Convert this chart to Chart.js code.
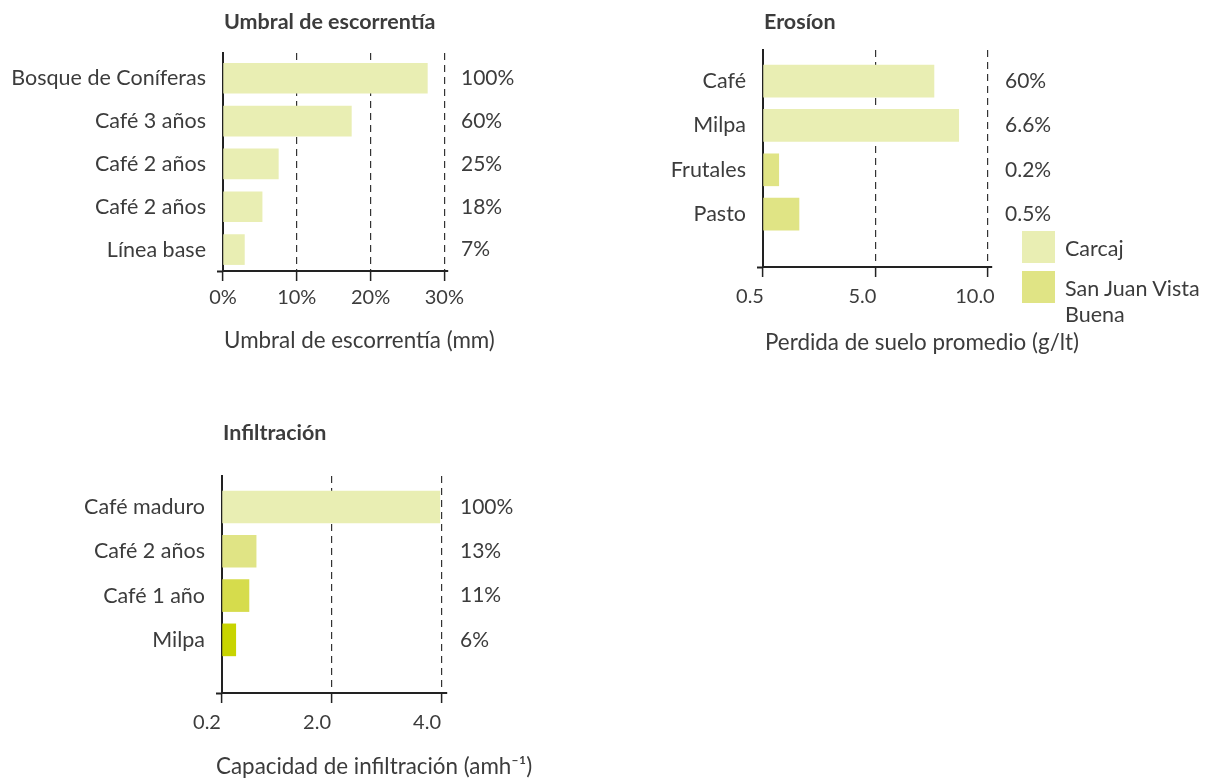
<!DOCTYPE html>
<html lang="es">
<head>
<meta charset="utf-8">
<title>Umbral de escorrentía, erosión e infiltración</title>
<script src="https://cdn.jsdelivr.net/npm/chart.js@4.4.1/dist/chart.umd.min.js"></script>
<style>
  body { margin: 0; background: #fff; width: 1211px; height: 780px; position: relative; overflow: hidden;
         font-family: Lato, "Noto Sans", sans-serif; color: #3c3c3c; }
  canvas { position: absolute; }
  #umbralChart { left: 0; top: 0; }
  #erosionChart { left: 600px; top: 0; }
  #infilChart { left: 0; top: 400px; }
  .legend { position: absolute; left: 1022px; top: 231px; font-size: 21.5px; line-height: 26px; }
  .legend .item { display: flex; align-items: flex-start; margin-bottom: 8px; }
  .legend .swatch { width: 33px; height: 32px; flex: none; }
  .legend .label { margin-left: 10px; padding-top: 4px; }
</style>
</head>
<body>
<canvas id="umbralChart" width="560" height="360"></canvas>
<canvas id="erosionChart" width="520" height="360"></canvas>
<canvas id="infilChart" width="560" height="380"></canvas>
<div class="legend" id="erosionLegend"></div>

<script>
// Umbral de escorrentía
const umbralCategories = ['Bosque de Coníferas', 'Café 3 años', 'Café 2 años', 'Café 2 años', 'Línea base'];
const umbralValues = [27.7, 17.4, 7.5, 5.3, 2.9];
const umbralShares = ['100%', '60%', '25%', '18%', '7%'];
const umbralTickValues = [0, 10, 20, 30];
const umbralTickLabels = ['0%', '10%', '20%', '30%'];

// Erosíon
const erosionCategories = ['Café', 'Milpa', 'Frutales', 'Pasto'];
const erosionValues = [7.6, 8.7, 0.7, 1.6];
const erosionSites = ['Carcaj', 'Carcaj', 'San Juan Vista Buena', 'San Juan Vista Buena'];
const erosionShares = ['60%', '6.6%', '0.2%', '0.5%'];
const erosionTickValues = [0, 5, 10];
const erosionTickLabels = ['0.5', '5.0', '10.0'];

// Infiltración
const infilCategories = ['Café maduro', 'Café 2 años', 'Café 1 año', 'Milpa'];
const infilValues = [3.96, 0.62, 0.49, 0.25];
const infilShares = ['100%', '13%', '11%', '6%'];
const infilTickValues = [0, 2, 4];
const infilTickLabels = ['0.2', '2.0', '4.0'];

// colours
const siteColors = { 'Carcaj': '#e9eeb3', 'San Juan Vista Buena': '#e0e485' };
const infilColors = ['#e9eeb3', '#e0e485', '#d6dc4c', '#c8d400'];

const fontFamily = 'Lato, "Noto Sans", sans-serif';
const textColor = '#3c3c3c';
const lineColor = '#222';

// panel title, axis title and the share labels right of the plot
const panelText = {
    id: 'panelText',
    afterDraw(chart, args, opts) {
        const { ctx, chartArea } = chart;
        ctx.save();
        ctx.fillStyle = textColor;
        ctx.textBaseline = 'middle';
        ctx.textAlign = 'left';
        ctx.font = 'bold 21.5px ' + fontFamily;
        ctx.fillText(opts.title, chartArea.left + 1, opts.titleY);
        ctx.font = '22.4px ' + fontFamily;
        ctx.fillText(opts.axisTitle, chartArea.left + opts.axisTitleDx, opts.axisTitleY);
        ctx.font = '21px ' + fontFamily;
        chart.getDatasetMeta(0).data.forEach((bar, i) => {
            ctx.fillText(opts.shares[i], chartArea.right + 13, bar.y);
        });
        ctx.restore();
    }
};

function makeChart(id, p) {
    return new Chart(document.getElementById(id), {
        type: 'bar',
        data: {
            datasets: [{
                data: p.categories.map((c, i) => ({ x: p.values[i], y: i })),
                backgroundColor: p.colors,
                borderWidth: 0,
                barThickness: p.barThickness
            }]
        },
        options: {
            indexAxis: 'y',
            responsive: false,
            animation: false,
            events: [],
            layout: { padding: { top: p.top, right: p.right, left: 0, bottom: 0 } },
            plugins: {
                legend: { display: false },
                tooltip: { enabled: false },
                panelText: {
                    title: p.title, titleY: p.titleY, shares: p.shares,
                    axisTitle: p.axisTitle, axisTitleY: p.axisTitleY, axisTitleDx: p.axisTitleDx
                }
            },
            scales: {
                x: {
                    type: 'linear', min: 0, max: p.xMax, z: 1,
                    afterBuildTicks: s => { s.ticks = p.tickValues.map(v => ({ value: v })); },
                    afterFit: s => { s.height = p.xHeight; },
                    ticks: {
                        callback: v => p.tickLabels[p.tickValues.indexOf(v)],
                        font: { family: fontFamily, size: 20 }, color: textColor,
                        padding: p.tickPad, labelOffset: p.labelOffset, maxRotation: 0, autoSkip: false
                    },
                    grid: {
                        color: c => c.index === 0 ? 'transparent' : '#333',
                        lineWidth: 1.2, tickLength: 10, tickColor: lineColor, tickWidth: 1.5
                    },
                    border: { display: true, color: lineColor, width: 2, dash: [7, 5] }
                },
                y: {
                    type: 'linear', reverse: true, min: p.yMin, max: p.yMax, z: 1,
                    offset: false,
                    afterBuildTicks: s => {
                        s.ticks = p.categories.map((c, i) => ({ value: i })).concat([{ value: p.yMax }]);
                    },
                    afterFit: s => { s.width = p.yWidth; },
                    ticks: {
                        callback: v => Number.isInteger(v) ? p.categories[v] : '',
                        font: { family: fontFamily, size: 21.5 }, color: textColor, padding: 11, autoSkip: false
                    },
                    grid: {
                        offset: false, drawOnChartArea: false, tickLength: 6, tickWidth: 2,
                        tickColor: c => (c.tick && c.tick.value === p.yMax) ? lineColor : 'transparent'
                    },
                    border: { display: true, color: lineColor, width: 2 }
                }
            }
        },
        plugins: [panelText]
    });
}

function buildLegend() {
    const legend = document.getElementById('erosionLegend');
    const names = ['Carcaj', 'San Juan Vista<br>Buena'];
    Object.keys(siteColors).forEach((site, i) => {
        const item = document.createElement('div');
        item.className = 'item';
        item.innerHTML = `<div class="swatch" style="background:${siteColors[site]}"></div>
                          <div class="label">${names[i]}</div>`;
        legend.appendChild(item);
    });
}

function drawAll() {
    makeChart('umbralChart', {
        categories: umbralCategories, values: umbralValues, shares: umbralShares,
        colors: umbralCategories.map(() => siteColors['Carcaj']),
        tickValues: umbralTickValues, tickLabels: umbralTickLabels,
        title: 'Umbral de escorrentía', axisTitle: 'Umbral de escorrentía (mm)',
        titleY: 22, axisTitleY: 341, axisTitleDx: 1,
        top: 53, right: 112, yWidth: 223, xHeight: 89,
        xMax: 30.5, yMin: -0.59, yMax: 4.5, barThickness: 30,
        labelOffset: 0, tickPad: 5
    });
    makeChart('erosionChart', {
        categories: erosionCategories, values: erosionValues, shares: erosionShares,
        colors: erosionSites.map(s => siteColors[s]),
        tickValues: erosionTickValues, tickLabels: erosionTickLabels,
        title: 'Erosíon', axisTitle: 'Perdida de suelo promedio (g/lt)',
        titleY: 22, axisTitleY: 343, axisTitleDx: 2,
        top: 50, right: 128, yWidth: 163, xHeight: 93,
        xMax: 10.18, yMin: -0.7, yMax: 4.19, barThickness: 32,
        labelOffset: -13, tickPad: 8
    });
    makeChart('infilChart', {
        categories: infilCategories, values: infilValues, shares: infilShares,
        colors: infilColors,
        tickValues: infilTickValues, tickLabels: infilTickLabels,
        title: 'Infiltración', axisTitle: 'Capacidad de infiltración (amh⁻¹)',
        titleY: 33, axisTitleY: 367, axisTitleDx: -6,
        top: 76, right: 113, yWidth: 222, xHeight: 87,
        xMax: 4.09, yMin: -0.7, yMax: 4.2, barThickness: 32,
        labelOffset: -15, tickPad: 8
    });
    buildLegend();
}

if (document.fonts && document.fonts.load) {
    Promise.all([document.fonts.load('21px Lato'), document.fonts.load('bold 21px Lato')])
        .then(drawAll, drawAll);
} else {
    drawAll();
}
</script>
</body>
</html>
